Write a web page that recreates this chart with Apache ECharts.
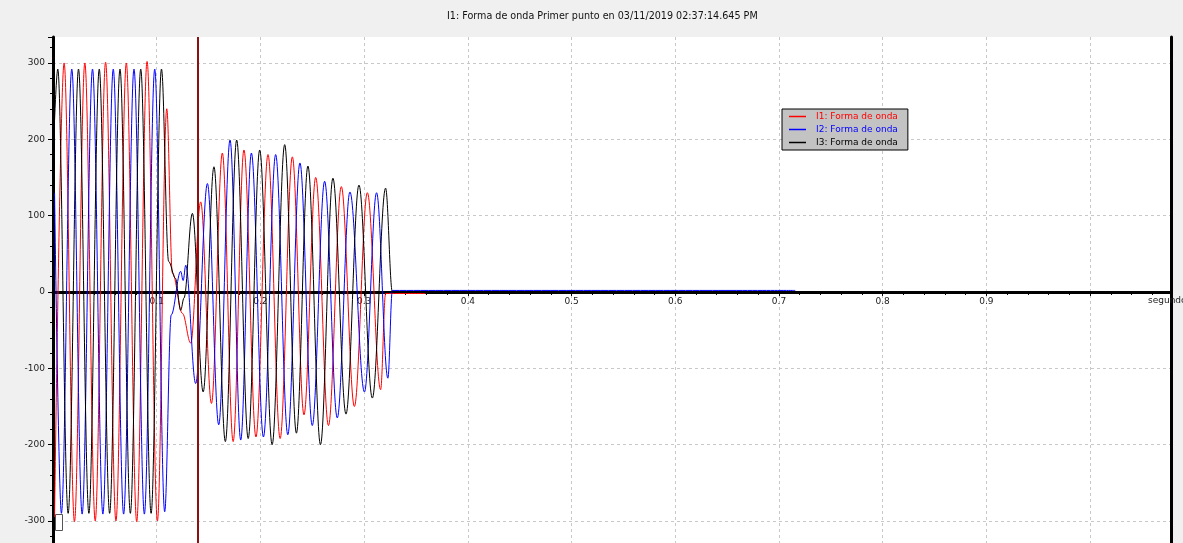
<!DOCTYPE html>
<html>
<head>
<meta charset="utf-8">
<script src="https://cdn.jsdelivr.net/npm/echarts@6/dist/echarts.min.js"></script>
<style>
html,body{margin:0;padding:0;background:#f0f0f0;}
#chart{width:1183px;height:543px;}
</style>
</head>
<body>
<div id="chart"></div>
<script>
// ---- data (time in seconds, current in A) ----
const titleText = 'I1: Forma de onda Primer punto en 03/11/2019 02:37:14.645 PM';
const seriesNames = ['I1: Forma de onda', 'I2: Forma de onda', 'I3: Forma de onda'];
const seriesColors = ['#ff0000', '#0000ff', '#000000'];
const xAxisName = 'segundos';
const cursorTime = 0.1395;

const i1Data = [
  [0.0015,-295],[0.0107,300],[0.0207,-301],[0.0307,300],[0.0407,-300],[0.0507,301],
  [0.0607,-300],[0.0707,300],[0.0807,-301],[0.0907,302],[0.1007,-300],[0.1097,240],
  [0.1151,25],[0.1248,-28],[0.1328,-67],[0.1424,118],[0.1528,-146],[0.1633,182],
  [0.1737,-196],[0.1841,186],[0.1957,-190],[0.2073,180],[0.2190,-192],[0.2308,177],
  [0.2420,-161],[0.2533,150],[0.2656,-175],[0.2780,138],[0.2906,-150],[0.3031,130],
  [0.3159,-128],[0.3207,-2],[0.3590,-2]
];
const i2Data = [
  [0.0015,130],[0.0081,-290],[0.0181,292],[0.0281,-291],[0.0381,292],[0.0481,-291],
  [0.0581,292],[0.0681,-291],[0.0781,292],[0.0881,-291],[0.0981,292],[0.1077,-288],
  [0.1140,-30],[0.1231,27],[0.1255,15],[0.1280,35],[0.1376,-120],[0.1489,142],
  [0.1598,-174],[0.1707,199],[0.1810,-194],[0.1913,182],[0.2029,-190],[0.2147,180],
  [0.2264,-187],[0.2381,169],[0.2500,-175],[0.2619,145],[0.2741,-165],[0.2863,131],
  [0.3003,-131],[0.3120,130],[0.3229,-113],[0.3272,2],[0.7157,2]
];
const i3Data = [
  [0.0015,225],[0.0046,292],[0.0146,-290],[0.0246,292],[0.0346,-290],[0.0446,292],
  [0.0546,-290],[0.0646,292],[0.0746,-290],[0.0846,292],[0.0946,-290],[0.1046,292],
  [0.1115,40],[0.1180,18],[0.1231,-24],[0.1263,-8],[0.1344,103],[0.1448,-131],
  [0.1552,164],[0.1662,-196],[0.1771,199],[0.1882,-192],[0.1993,186],[0.2113,-200],
  [0.2234,193],[0.2347,-185],[0.2458,165],[0.2579,-200],[0.2699,149],[0.2825,-160],
  [0.2950,140],[0.3079,-139],[0.3207,136],[0.3272,0],[0.8620,0]
];

const X_MIN = 0, X_MAX = 1.078, X_STEP = 0.1;
const Y_MIN = -400, Y_MAX = 334, Y_STEP = 100;

const FONT = 'DejaVu Sans';
const GRID_TOP = 37, GRID_BOTTOM = -54.3, CHART_H = 543;
const chart = echarts.init(document.getElementById('chart'), null, {renderer: 'canvas'});

// pixel distance from grid bottom edge up to the zero line (so the x axis sits on y = 0)
const plotH = CHART_H - GRID_TOP - GRID_BOTTOM;
const zeroFromBottom = plotH * (0 - Y_MIN) / (Y_MAX - Y_MIN);

function waveSeries(name, data, color, extra) {
  return Object.assign({
    name: name, type: 'line', data: data,
    showSymbol: false, symbol: 'none',
    smooth: 0.36, smoothMonotone: 'x',
    lineStyle: {color: color, width: 1},
    itemStyle: {color: color},
    animation: false, silent: true
  }, extra || {});
}

chart.setOption({
  backgroundColor: '#f0f0f0',
  animation: false,
  title: {
    text: titleText, left: 442, top: 6,
    textStyle: {fontFamily: FONT, fontSize: 9.6, fontWeight: 'normal', color: '#111'}
  },
  legend: {
    orient: 'vertical', left: 782, top: 109,
    backgroundColor: '#c3c3c3', borderColor: '#000', borderWidth: 1,
    padding: [3, 10, 3, 7],
    itemWidth: 17, itemHeight: 1.5, itemGap: 4, icon: 'rect',
    textStyle: {fontFamily: FONT, fontSize: 9, padding: [0, 0, 0, 5]},
    data: seriesNames.map((n, i) => ({name: n, textStyle: {color: seriesColors[i]}})),
    selectedMode: false
  },
  grid: {left: 53, right: 12, top: GRID_TOP, bottom: GRID_BOTTOM, outerBoundsMode: 'none', containLabel: false,
         show: true, backgroundColor: '#ffffff', borderWidth: 0},
  xAxis: {
    type: 'value', min: X_MIN, max: X_MAX, interval: X_STEP,
    position: 'bottom', offset: -zeroFromBottom,
    axisLine: {onZero: false, lineStyle: {color: '#000', width: 3}},
    axisTick: {show: true, length: 4, lineStyle: {color: '#000'}},
    minorTick: {show: true, splitNumber: 5, length: 3, lineStyle: {color: '#000'}},
    axisLabel: {
      fontFamily: FONT, fontSize: 9, color: '#222', margin: 5,
      formatter: v => (v > 0.05 && v < 0.95) ? v.toFixed(1) : ''
    },
    splitLine: {show: true, lineStyle: {color: '#c8c8c8', type: [3, 3], width: 1}},
    name: xAxisName, nameLocation: 'end', nameGap: -23,
    nameTextStyle: {fontFamily: FONT, fontSize: 9, color: '#222', verticalAlign: 'top', padding: [4, 0, 0, 0]}
  },
  yAxis: [{
    type: 'value', min: Y_MIN, max: Y_MAX, interval: Y_STEP,
    axisLine: {show: true, onZero: false, lineStyle: {color: '#000', width: 3}},
    axisTick: {show: true, length: 5, lineStyle: {color: '#000'}},
    minorTick: {show: true, splitNumber: 5, length: 3, lineStyle: {color: '#000'}},
    axisLabel: {
      fontFamily: FONT, fontSize: 9, color: '#222', margin: 8,
      formatter: v => (v % 100 === 0 && Math.abs(v) <= 300) ? String(v) : ''
    },
    splitLine: {show: true, showMaxLine: false, lineStyle: {color: '#c8c8c8', type: [3, 3], width: 1}}
  }, {
    type: 'value', min: Y_MIN, max: Y_MAX, interval: Y_STEP, position: 'right',
    axisLine: {show: true, onZero: false, lineStyle: {color: '#000', width: 3}},
    axisTick: {show: false}, axisLabel: {show: false}, splitLine: {show: false}
  }],
  graphic: [{
    type: 'rect', left: 55, top: 514, shape: {width: 7, height: 16},
    style: {fill: '#fff', stroke: '#555', lineWidth: 1}, z: 100
  }],
  series: [
    waveSeries(seriesNames[0], i1Data, seriesColors[0], {
      markLine: {
        silent: true, symbol: 'none', animation: false,
        label: {show: false},
        lineStyle: {color: '#8b1010', width: 2, type: 'solid'},
        data: [{xAxis: cursorTime}]
      }
    }),
    waveSeries(seriesNames[1], i2Data, seriesColors[1]),
    waveSeries(seriesNames[2], i3Data, seriesColors[2])
  ]
});
</script>
</body>
</html>
